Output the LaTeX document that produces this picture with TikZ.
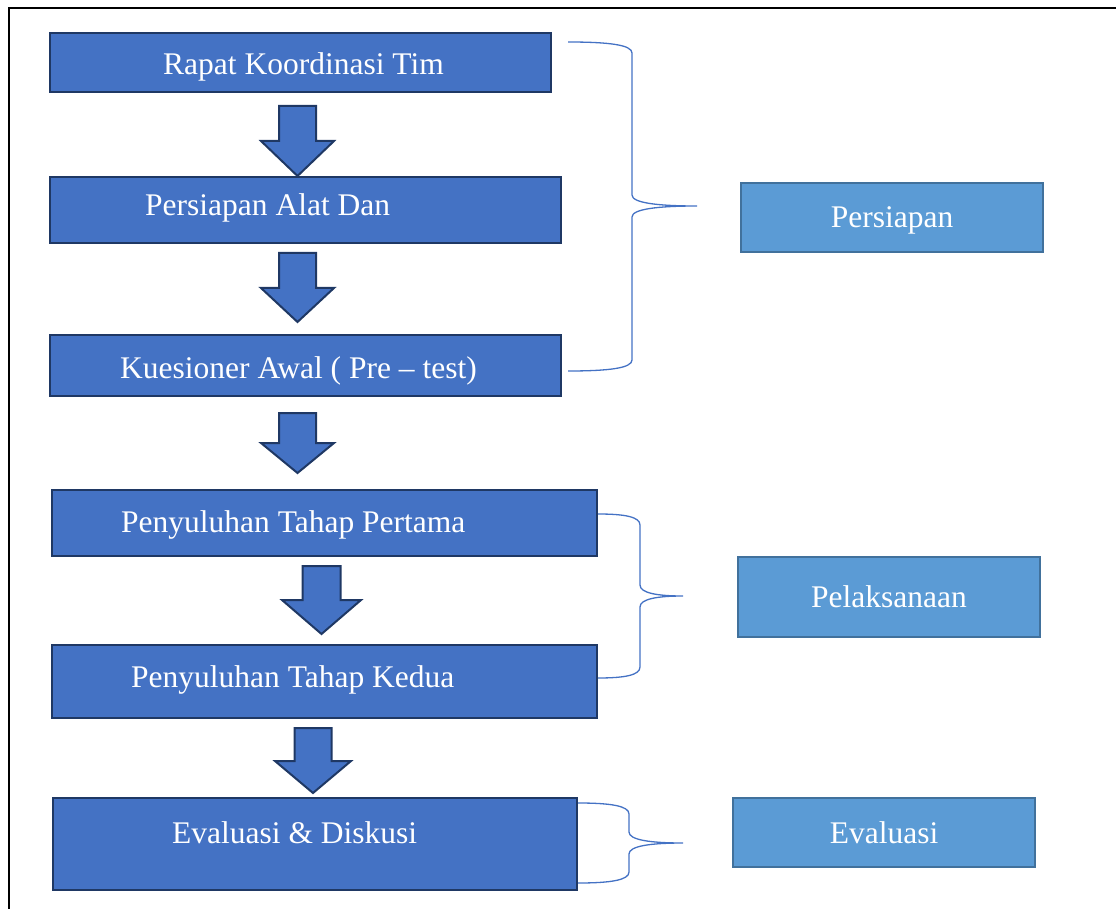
\documentclass[tikz,border=0pt]{standalone}
\usepackage{fontspec}
\setmainfont{Liberation Serif}
\definecolor{mainfill}{HTML}{4472C4}
\definecolor{mainline}{HTML}{1F3864}
\definecolor{sidefill}{HTML}{5B9BD5}
\definecolor{sideline}{HTML}{41719C}
\definecolor{bracecol}{HTML}{4472C4}
\tikzset{
  mainbox/.style={draw=mainline, fill=mainfill, line width=2pt, inner sep=0pt},
  sidebox/.style={draw=sideline, fill=sidefill, line width=2.5pt, inner sep=0pt,
    text=white, text depth=0pt, font=\fontsize{31.5}{36}\selectfont},
  boxtext/.style={anchor=base west, inner sep=0pt, text=white, font=\fontsize{31.5}{36}\selectfont},
  arr/.style={draw=mainline, fill=mainfill, line width=2pt, line join=miter},
  bracestyle/.style={draw=bracecol, line width=1.3pt},
  frame/.style={draw=black, line width=2.2pt}
}
\newcommand{\blockarr}[6]{%
  \filldraw[arr] ({#1-#5},#2) -- ({#1+#5},#2) -- ({#1+#5},#3) -- ({#1+#6},#3) -- (#1,#4)
    -- ({#1-#6},#3) -- ({#1-#5},#3) -- cycle;}
\newcommand{\bracepath}[6]{% xend, ytop, xv, ymid, xtip, ybot
  \draw[bracestyle] (#1,#2) .. controls ({#1+0.65*(#3-#1)},#2) and (#3,{#2+3}) .. (#3,{#2+11})
    -- (#3,{#4-11}) .. controls (#3,{#4-3}) and ({#3+0.4*(#5-#3)},#4) .. (#5,#4)
    .. controls ({#3+0.4*(#5-#3)},#4) and (#3,{#4+3}) .. (#3,{#4+11})
    -- (#3,{#6-11}) .. controls (#3,{#6-3}) and ({#1+0.65*(#3-#1)},#6) .. (#1,#6);}
\begin{document}
\begin{tikzpicture}[x=1pt,y=-1pt]
\useasboundingbox (0,0) rectangle (1116,909);
% frame
\draw[frame] (9,912) -- (9,8) -- (1120,8);
% main boxes
\node[mainbox, minimum width=501pt, minimum height=59pt] (b1) at (300.5,62.5) {};
\node[mainbox, minimum width=511pt, minimum height=66pt] (b2) at (305.5,210) {};
\node[mainbox, minimum width=511pt, minimum height=61pt] (b3) at (305.5,365.5) {};
\node[mainbox, minimum width=545pt, minimum height=66pt] (b4) at (324.5,523) {};
\node[mainbox, minimum width=545pt, minimum height=73pt] (b5) at (324.5,681.5) {};
\node[mainbox, minimum width=524pt, minimum height=92pt] (b6) at (315,844) {};
% texts
\node[boxtext] (t1) at (163,75) {Rapat Koordinasi Tim};
\node[boxtext] (t2) at (145,216) {Persiapan Alat Dan};
\node[boxtext] (t3) at (120,378) {Kuesioner Awal ( Pre -- test)};
\node[boxtext] (t4) at (121,532) {Penyuluhan Tahap Pertama};
\node[boxtext] (t5) at (131,687) {Penyuluhan Tahap Kedua};
\node[boxtext] (t6) at (172,843) {Evaluasi \& Diskusi};
% arrows
\blockarr{297.5}{106}{141}{176}{18.5}{36.5}
\blockarr{297.5}{253}{288}{322}{18.5}{36.5}
\blockarr{297.5}{413}{443}{473}{18.5}{36.5}
\blockarr{321.5}{566}{600}{634}{19}{39.5}
\blockarr{313}{728}{761}{793}{18.5}{38}
% braces
\bracepath{568}{42}{632}{206}{697}{371}
\bracepath{598}{514}{640}{596}{683}{678}
\bracepath{578}{803}{629}{843}{683}{883}
% side boxes
\node[sidebox, minimum width=302pt, minimum height=69pt] (s1) at (892,217.5) {Persiapan};
\node[sidebox, minimum width=302pt, minimum height=80pt] (s2) at (889,597) {Pelaksanaan};
\node[sidebox, minimum width=302pt, minimum height=69pt] (s3) at (884,832.5) {Evaluasi};
\end{tikzpicture}
\end{document}
